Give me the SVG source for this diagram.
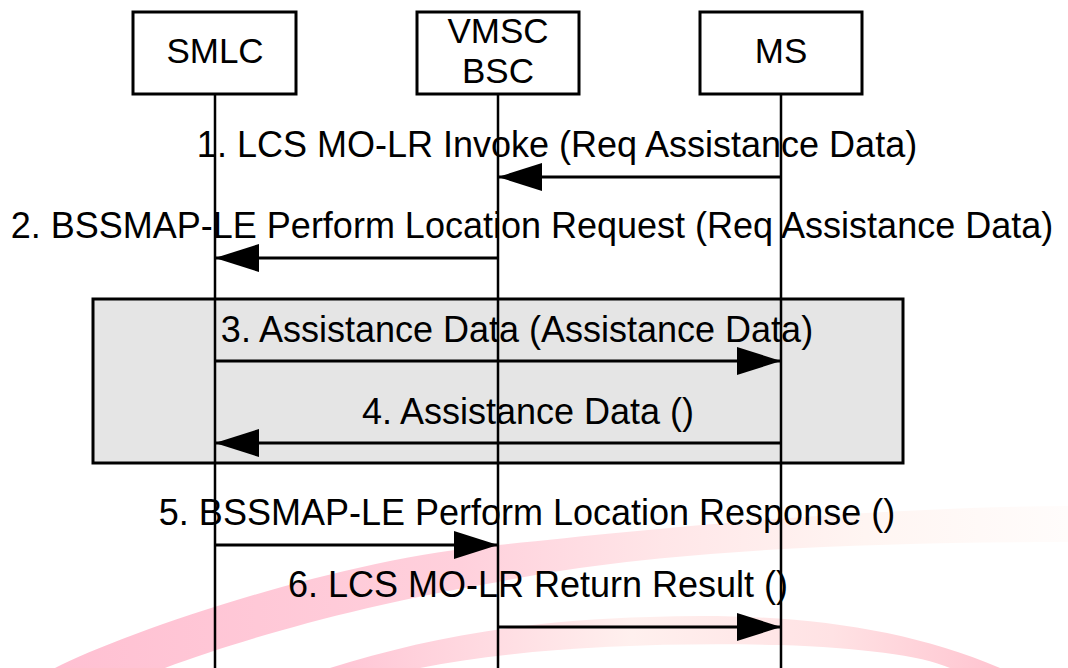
<svg xmlns="http://www.w3.org/2000/svg" width="1068" height="668" viewBox="0 0 1068 668">
  <style>
    .box { fill: #ffffff; stroke: #000000; stroke-width: 3; }
    .lbl { font-family: "Liberation Sans", Arial, sans-serif; font-size: 35px; fill: #000000; text-anchor: middle; }
    .msg { font-family: "Liberation Sans", Arial, sans-serif; font-size: 36px; fill: #000000; text-anchor: middle; }
    .life { stroke: #000000; stroke-width: 2.5; fill: none; }
    .arrow { stroke: #000000; stroke-width: 3; fill: none; marker-end: url(#head); }
    .frame { fill: #e5e5e5; stroke: #000000; stroke-width: 3; }
  </style>
  <defs>
    <marker id="head" viewBox="0 0 44 28" refX="44" refY="14" markerWidth="44" markerHeight="28" markerUnits="userSpaceOnUse" orient="auto">
      <path d="M0,0 L44,14 L0,28 z" fill="#000000"/>
    </marker>
    <linearGradient id="swooshA" x1="0" y1="0" x2="1" y2="0">
      <stop offset="0" stop-color="#ffc0d2"/>
      <stop offset="0.4" stop-color="#ffd0dc"/>
      <stop offset="0.6" stop-color="#ffe6e8"/>
      <stop offset="0.8" stop-color="#fff5f2"/>
      <stop offset="1" stop-color="#fffcfb"/>
    </linearGradient>
    <linearGradient id="swooshB" x1="0" y1="0" x2="1" y2="0">
      <stop offset="0" stop-color="#ffc4d4"/>
      <stop offset="0.45" stop-color="#fff0ee"/>
      <stop offset="0.75" stop-color="#ffe2e4"/>
      <stop offset="1" stop-color="#ffc4d0"/>
    </linearGradient>
  </defs>

  <rect x="0" y="0" width="1068" height="668" fill="#ffffff"/>

  <!-- background swoosh -->
  <g id="swoosh">
    <path d="M55,668 C120,635 330,560 498,545 C640,530 850,508 1068,506 L1068,542 C850,542 640,552 498,582 C360,605 240,640 165,668 z" fill="url(#swooshA)"/>
    <path d="M330,668 C420,640 520,620 650,617 C780,612 900,625 1000,668 z" fill="url(#swooshB)"/>
    <path d="M420,668 C520,648 650,642 780,645 C860,648 920,655 950,668 z" fill="#ffffff"/>
  </g>

  <!-- activity frame -->
  <rect id="frame" class="frame" x="93" y="299" width="810" height="164"/>

  <!-- lifelines -->
  <g id="lifelines">
    <line class="life" x1="215" y1="94" x2="215" y2="668"/>
    <line class="life" x1="498" y1="94" x2="498" y2="668"/>
    <line class="life" x1="781" y1="94" x2="781" y2="668"/>
  </g>

  <g id="node-smlc">
    <rect class="box" x="133" y="12" width="163" height="82"/>
    <text class="lbl" x="215" y="63">SMLC</text>
  </g>
  <g id="node-vmsc">
    <rect class="box" x="417" y="12" width="162" height="82"/>
    <text class="lbl" x="498" y="43">VMSC</text>
    <text class="lbl" x="498" y="83">BSC</text>
  </g>
  <g id="node-ms">
    <rect class="box" x="700" y="12" width="162" height="82"/>
    <text class="lbl" x="781" y="63">MS</text>
  </g>

  <!-- messages -->
  <g id="connectors">
    <text class="msg" x="557" y="157">1. LCS MO-LR Invoke (Req Assistance Data)</text>
    <line class="arrow" x1="781" y1="177" x2="498" y2="177"/>

    <text class="msg" x="532" y="238">2. BSSMAP-LE Perform Location Request (Req Assistance Data)</text>
    <line class="arrow" x1="498" y1="258" x2="215" y2="258"/>

    <text class="msg" x="517" y="342">3. Assistance Data (Assistance Data)</text>
    <line class="arrow" x1="215" y1="361" x2="781" y2="361"/>

    <text class="msg" x="528" y="424">4. Assistance Data ()</text>
    <line class="arrow" x1="781" y1="443" x2="215" y2="443"/>

    <text class="msg" x="527" y="525">5. BSSMAP-LE Perform Location Response ()</text>
    <line class="arrow" x1="215" y1="545" x2="498" y2="545"/>

    <text class="msg" x="538" y="597">6. LCS MO-LR Return Result ()</text>
    <line class="arrow" x1="498" y1="627" x2="781" y2="627"/>
  </g>
</svg>
